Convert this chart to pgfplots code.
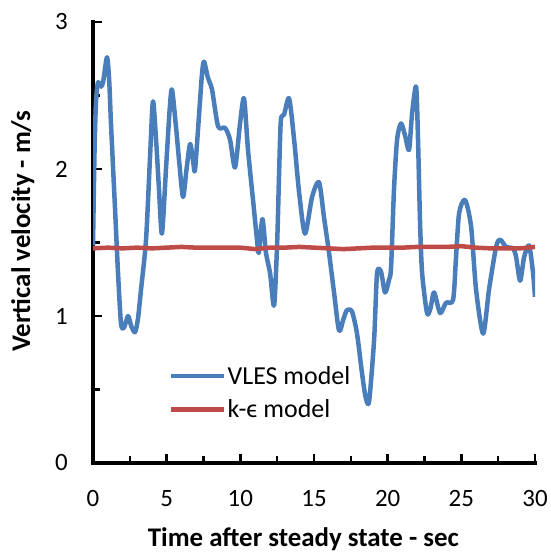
\documentclass[border=0pt]{standalone}
\usepackage{fontspec}
\setmainfont{Carlito}
\usepackage{pgfplots}
\pgfplotsset{compat=1.18}
\definecolor{vles}{HTML}{4A7EBB}
\definecolor{keps}{HTML}{BE4B48}
\begin{document}
\begin{tikzpicture}
\path[use as bounding box] (0,0) rectangle (551bp,552bp);
\begin{axis}[
    at={(93bp,89bp)}, anchor=south west,
    scale only axis,
    width=442bp, height=441bp,
    xmin=0, xmax=30, ymin=0, ymax=3,
    axis x line=bottom, axis y line=left,
    axis line style={-, line width=3.4bp, black, line cap=rect},
    xtick={0,5,...,30}, ytick={0,1,2,3},
    minor xtick={2.5,7.5,...,27.5}, minor ytick={0.5,1.5,2.5},
    tick align=inside,
    major tick length=9bp, minor tick length=7bp,
    every tick/.style={black, line width=2.4bp},
    /pgf/number format/assume math mode=true,
    tick label style={font=\fontsize{25}{30}\selectfont, inner sep=0pt},
    xticklabel shift=27bp, yticklabel shift=25bp,
    xlabel={Time after steady state - sec},
    ylabel={Vertical velocity - m/s},
    label style={font=\fontsize{27}{32}\selectfont\bfseries},
    xlabel style={at={(axis description cs:0.476,-0.19)}, anchor=base},
    ylabel style={at={(axis description cs:-0.1425,0.526)}, anchor=base, rotate=0},
    legend style={at={(0.172,0.222)}, anchor=north west, draw=none, fill=none,
        font=\fontsize{26}{31}\selectfont, inner sep=0pt, row sep=12bp,
        nodes={inner sep=1bp}},
    legend cell align=left,
    legend image code/.code={\draw[#1, line width=4.5bp] (0bp,0bp) -- (53bp,0bp);},
]
% VLES model
\addplot[vles, line width=4.5bp, line join=round, smooth, tension=0.45] coordinates {
(0,1.48) (0.1,2.1) (0.2,2.45) (0.34,2.59) (0.55,2.56) (0.7,2.6) (0.95,2.76)
(1.1,2.6) (1.22,2.31) (1.49,1.74) (1.7,1.29) (1.9,0.95) (2.1,0.92) (2.38,1.0)
(2.6,0.93) (2.85,0.89) (3.05,0.98) (3.26,1.18) (3.6,1.52) (3.87,2.08) (4.07,2.46)
(4.28,2.2) (4.48,1.86) (4.68,1.56) (4.96,2.01) (5.2,2.4) (5.36,2.54) (5.63,2.29)
(5.85,2.05) (6.11,1.81) (6.35,2.0) (6.59,2.17) (6.8,2.05) (6.92,1.99) (7.15,2.3)
(7.4,2.65) (7.54,2.73) (7.8,2.62) (8.08,2.54) (8.49,2.29) (8.96,2.28) (9.3,2.2)
(9.64,2.01) (9.98,2.31) (10.25,2.48) (10.52,2.13) (10.86,1.79) (11.13,1.52)
(11.25,1.43) (11.5,1.66) (11.74,1.43) (12.02,1.29) (12.29,1.07) (12.5,1.5)
(12.63,1.97) (12.75,2.33) (12.97,2.37) (13.31,2.48) (13.65,2.2) (13.99,1.84)
(14.39,1.56) (14.87,1.81) (15.34,1.91) (15.68,1.67) (16.02,1.43) (16.36,1.16)
(16.7,0.9) (17.0,0.98) (17.24,1.04) (17.58,1.03) (17.92,0.88) (18.26,0.61)
(18.5,0.45) (18.74,0.42) (19.08,0.84) (19.28,1.29) (19.55,1.3) (19.82,1.16)
(20.1,1.25) (20.23,1.33) (20.43,1.86) (20.64,2.2) (20.91,2.31) (21.2,2.22)
(21.45,2.13) (21.66,2.38) (21.93,2.56) (22.06,2.2) (22.2,1.63) (22.34,1.29)
(22.67,1.02) (22.9,1.05) (23.15,1.16) (23.56,1.02) (23.96,1.09) (24.44,1.11)
(24.64,1.4) (24.85,1.7) (25.25,1.79) (25.66,1.61) (26.0,1.18) (26.48,0.88)
(26.88,1.18) (27.36,1.47) (27.63,1.52) (28.04,1.47) (28.51,1.46) (28.72,1.4)
(28.99,1.24) (29.26,1.4) (29.6,1.48) (29.87,1.29) (30,1.13)
};
\addlegendentry{VLES model}
% k-epsilon model
\addplot[keps, line width=4.5bp, line join=round] coordinates {
(0,1.46) (1,1.465) (2,1.46) (3,1.465) (4,1.46) (5,1.465) (6,1.47) (7,1.465)
(8,1.465) (9,1.465) (10,1.465) (11,1.455) (12,1.465) (13,1.465) (14,1.47)
(15,1.465) (16,1.46) (17,1.455) (18,1.46) (19,1.465) (20,1.465) (21,1.465)
(22,1.47) (23,1.47) (24,1.47) (25,1.475) (26,1.465) (27,1.46) (28,1.46)
(29,1.46) (30,1.47)
};
\addlegendentry{k-\char"03F5{} model}
\end{axis}
\end{tikzpicture}
\end{document}
